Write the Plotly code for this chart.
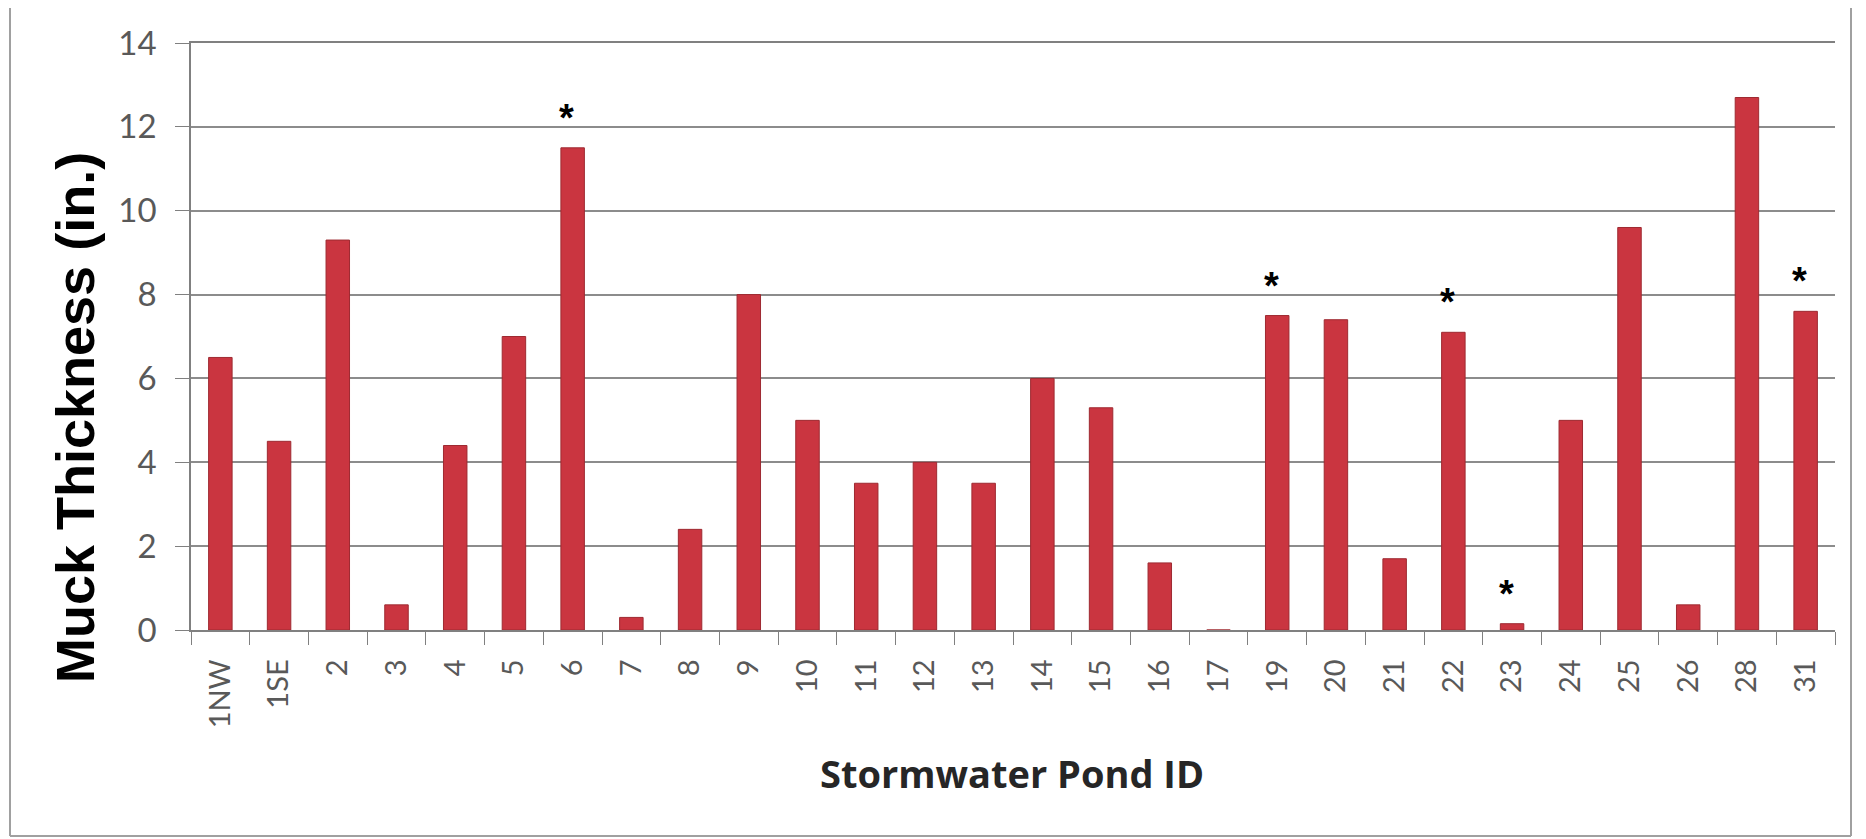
import plotly.graph_objects as go

# pond IDs and muck thickness (in.)
ponds = ["1NW", "1SE", "2", "3", "4", "5", "6", "7", "8", "9", "10", "11", "12", "13",
         "14", "15", "16", "17", "19", "20", "21", "22", "23", "24", "25", "26", "28", "31"]
thickness = [6.5, 4.5, 9.3, 0.6, 4.4, 7.0, 11.5, 0.3, 2.4, 8.0, 5.0, 3.5, 4.0, 3.5,
             6.0, 5.3, 1.6, 0.0, 7.5, 7.4, 1.7, 7.1, 0.15, 5.0, 9.6, 0.6, 12.7, 7.6]
starred = ["6", "19", "22", "23", "31"]
y_ticks = [0, 2, 4, 6, 8, 10, 12, 14]

W, H = 1866, 839
OFF = 8  # page body margin
L, R, T, B = 183, 39, 35, 217
pw, ph = W - L - R, H - T - B


def px(x):
    # screen pixel -> paper fraction
    return (x - OFF - L) / pw


def py(y):
    return (H - B - (y - OFF)) / ph


fig = go.Figure()
fig.add_trace(go.Bar(
    x=ponds, y=thickness,
    marker=dict(color="#CA3540", line=dict(color="#9E2A31", width=1)),
))

for p in starred:
    i = ponds.index(p)
    fig.add_annotation(x=i, y=thickness[i], text="<b>*</b>", showarrow=False, xshift=-6, yshift=30,
                       font=dict(family="Liberation Sans", size=38, color="black"))

# axis titles, placed as in the scan
fig.add_annotation(xref="paper", yref="paper", x=px(75), y=py(418), xanchor="center", yanchor="middle",
                   text="<b>Muck Thickness (in.)</b>", textangle=-90, showarrow=False,
                   font=dict(family="Liberation Sans", size=54, color="black"))
fig.add_annotation(xref="paper", yref="paper", x=px(1012), y=py(773), xanchor="center", yanchor="middle",
                   text="<b>Stormwater Pond ID</b>", showarrow=False,
                   font=dict(family="Open Sans", size=38, color="#262626"))

# scanned frame
frame = dict(color="#A0A0A0", width=2)
for x0, y0, x1, y1 in [(10, 8, 10, 836), (10, 836, 1851, 836), (1851, 8, 1851, 836),
                       (10, 5, 227, 5), (1843, 5, 1866, 5)]:
    fig.add_shape(type="line", xref="paper", yref="paper",
                  x0=px(x0), y0=py(y0), x1=px(x1), y1=py(y1), line=frame)

fig.update_layout(
    width=W, height=H,
    margin=dict(l=L, r=R, t=T, b=B),
    paper_bgcolor="white", plot_bgcolor="white",
    bargap=0.6, showlegend=False,
    font=dict(family="Lato", color="#595959"),
)
fig.update_xaxes(
    type="category", tickangle=-90, tickson="boundaries", ticks="outside", ticklen=13,
    tickcolor="#808080", showline=True, mirror=True, linecolor="#808080", linewidth=1.5,
    tickfont=dict(family="Lato", size=29, color="#595959"), ticklabelstandoff=16,
)
fig.update_yaxes(
    range=[0, 14], tickvals=y_ticks, ticks="outside", ticklen=14, tickcolor="#808080",
    showgrid=True, gridcolor="#8C8C8C", gridwidth=1.5, zeroline=False,
    showline=True, linecolor="#808080", linewidth=1.5,
    tickfont=dict(family="Lato", size=33, color="#595959"), ticklabelstandoff=12,
)

fig.write_html("out.html")
